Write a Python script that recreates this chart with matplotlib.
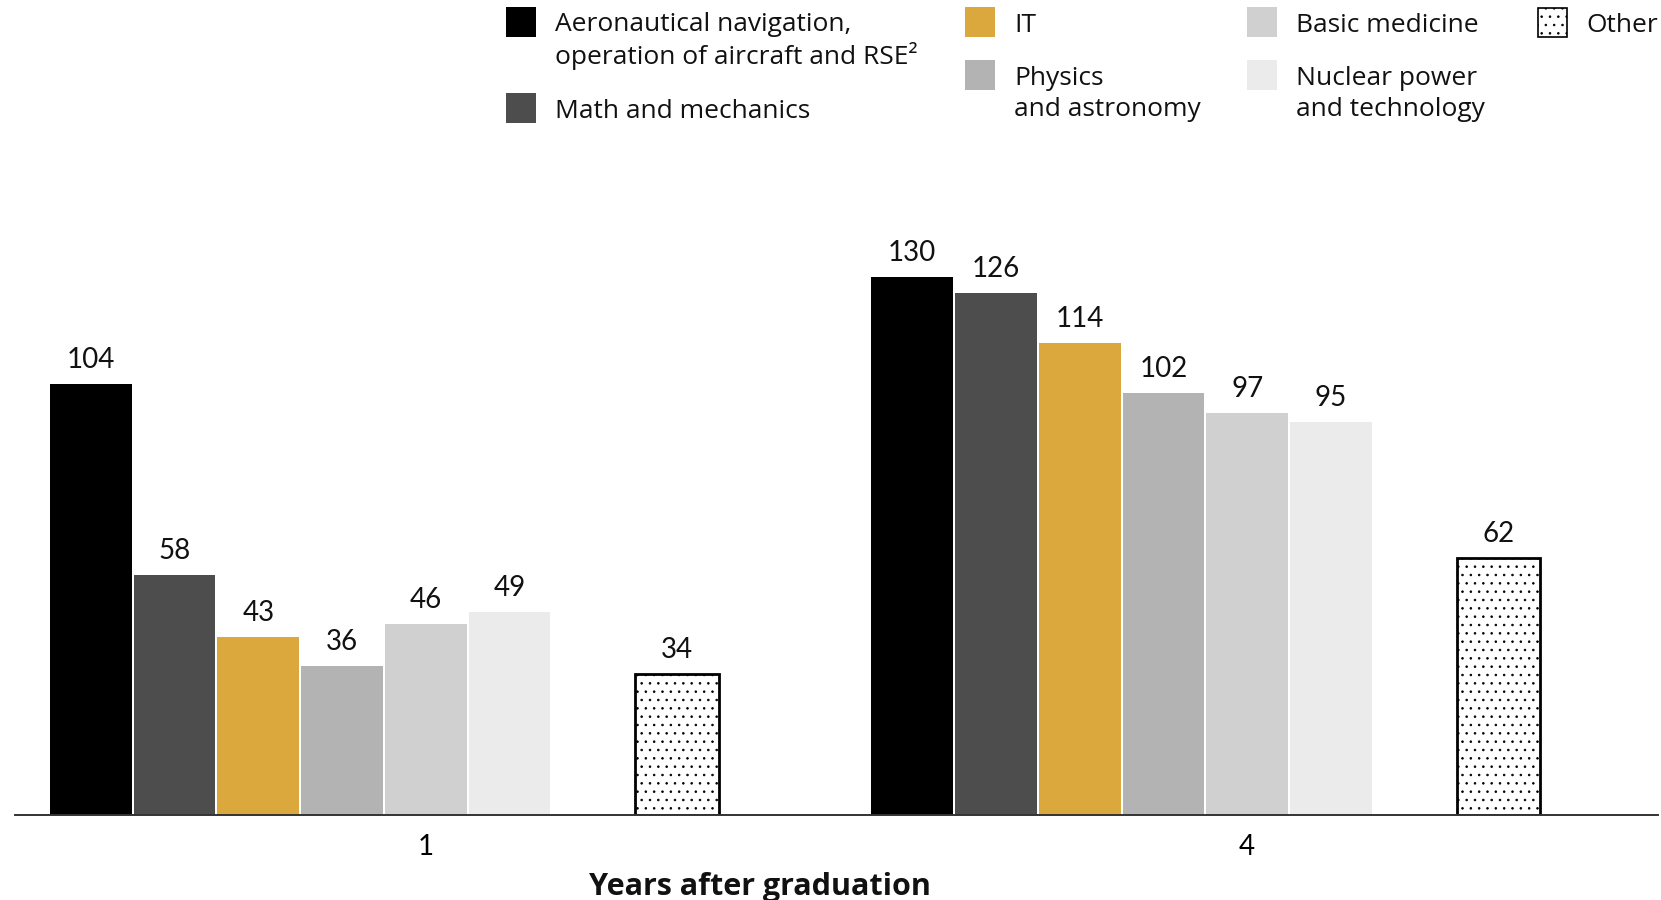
import matplotlib
matplotlib.use("Agg")
import matplotlib.pyplot as plt
from matplotlib.patches import Rectangle

plt.rcParams['font.family'] = ['Lato', 'DejaVu Sans']
plt.rcParams['hatch.linewidth'] = 0.6

# Data
years = ["1", "4"]
fields = [
    "Aeronautical navigation,\noperation of aircraft and RSE\u00b2",
    "Math and mechanics",
    "IT",
    "Physics\nand astronomy",
    "Basic medicine",
    "Nuclear power\nand technology",
]
field_values = {
    "1": [104, 58, 43, 36, 46, 49],
    "4": [130, 126, 114, 102, 97, 95],
}
other_label = "Other"
other_values = [34, 62]

colors = ["#000000", "#4d4d4d", "#dba83d", "#b3b3b3", "#d0d0d0", "#ebebeb"]
text_font = ['Open Sans', 'DejaVu Sans']

W, H = 1661, 900
fig = plt.figure(figsize=(W / 100, H / 100), dpi=100)
ax = fig.add_axes([15 / W, 85 / H, 1643 / W, 815 / H])

group_step = 9.81
bar_w = 0.975
label_offset = 11.5  # points

for gi, yr in enumerate(years):
    base = gi * group_step
    for si, v in enumerate(field_values[yr]):
        x = base + si
        ax.bar(x, v, width=bar_w, color=colors[si], linewidth=0)
        ax.annotate(str(v), (x, v), xytext=(0, label_offset), textcoords="offset points",
                    ha="center", va="baseline", fontsize=20, color="#111111")
    xo = base + 7
    ov = other_values[gi]
    ax.bar(xo, ov, width=1.0, facecolor="white", edgecolor="black", hatch="..",
           linewidth=2.0)
    ax.annotate(str(ov), (xo, ov), xytext=(0, label_offset), textcoords="offset points",
                ha="center", va="baseline", fontsize=20, color="#111111")

ax.set_xlim(-0.905, -0.905 + 2 * group_step)
ax.set_ylim(0, 815 / 4.142)
ax.set_xticks([4 + gi * group_step for gi in range(len(years))])
ax.set_xticklabels(years, fontsize=20)
ax.tick_params(axis="x", length=0, pad=14)
ax.set_yticks([])
for s in ["top", "left", "right"]:
    ax.spines[s].set_visible(False)
ax.spines["bottom"].set_color("#333333")
ax.spines["bottom"].set_linewidth(1.4)
ax.patch.set_alpha(0)

fig.text(760 / W, 1 - 887 / H, "Years after graduation", ha="center", va="center",
         fontsize=22, fontweight="bold", color="#111111", family=text_font)

# Legend drawn in figure pixel space
def fig_box(x, y, s, **kw):
    r = Rectangle((x / W, 1 - (y + s) / H), s / W, s / H, transform=fig.transFigure, **kw)
    fig.add_artist(r)

def fig_label(x, y, txt, spacing=1.32):
    fig.text(x / W, 1 - y / H, txt, ha="left", va="center", fontsize=19,
             color="#111111", linespacing=spacing, family=text_font)

sq = 30
legend_items = [
    (506, 7, 555, 41, 0, 1.22),
    (506, 93, 555, 111, 1, 1.32),
    (965, 7, 1014, 25, 2, 1.32),
    (965, 60, 1014, 94, 3, 1.32),
    (1247, 7, 1296, 25, 4, 1.32),
    (1247, 60, 1296, 94, 5, 1.32),
]
for bx, by, tx, ty, i, sp in legend_items:
    fig_box(bx, by, sq, facecolor=colors[i], edgecolor="none")
    fig_label(tx, ty, fields[i], sp)

fig_box(1538, 8, 29, facecolor="white", edgecolor="black", hatch="..", linewidth=1.2)
fig_label(1586, 25, other_label)

fig.savefig("out.png", dpi=100)
